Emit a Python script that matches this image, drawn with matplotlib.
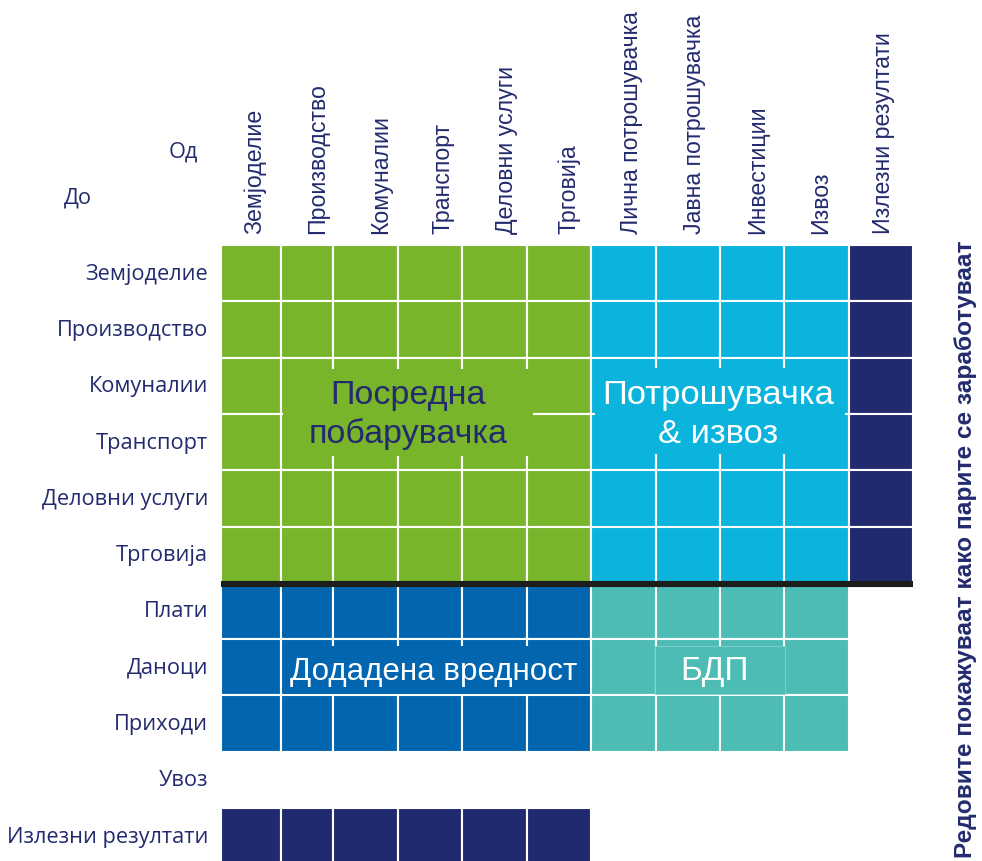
import numpy as np
import matplotlib.pyplot as plt
from matplotlib.patches import Rectangle

# --- data ---
row_labels = ['Земјоделие', 'Производство', 'Комуналии', 'Транспорт',
              'Деловни услуги', 'Трговија', 'Плати', 'Даноци', 'Приходи',
              'Увоз', 'Излезни резултати']
col_labels = ['Земјоделие', 'Производство', 'Комуналии', 'Транспорт',
              'Деловни услуги', 'Трговија', 'Лична потрошувачка',
              'Јавна потрошувачка', 'Инвестиции', 'Извоз', 'Излезни резултати']

# block code of every cell, one string per row ('.' = empty)
cell_blocks = [
    'GGGGGGCCCCN',
    'GGGGGGCCCCN',
    'GGGGGGCCCCN',
    'GGGGGGCCCCN',
    'GGGGGGCCCCN',
    'GGGGGGCCCCN',
    'BBBBBBTTTT.',
    'BBBBBBTTTT.',
    'BBBBBBTTTT.',
    '...........',
    'NNNNNN.....',
]
block_texts = {'G': 'Посредна\nпобарувачка', 'C': 'Потрошувачка\n& извоз',
               'B': 'Додадена вредност', 'T': 'БДП'}
corner_from = 'Од'
corner_to = 'До'
side_note = 'Редовите покажуваат како парите се заработуваат'

# --- style / layout ---
block_colors = {'G': '#79b52b', 'C': '#0bb4dd', 'N': '#212a6e',
                'B': '#0265af', 'T': '#4dbcb5'}
text_colors = {'G': '#232a6e', 'C': 'white', 'B': 'white', 'T': 'white'}
text_sizes = {'G': 24.5, 'C': 24.8, 'B': 22.6, 'T': 24}
navy = '#232b6e'
col_widths = [60, 52, 65, 64, 65, 64, 65, 64, 64, 65, 64]
row_h = 56.3
left, top = 221, 246
# label boxes: (x0, y0, x1, y1, text x, text y) in pixels
label_boxes = {
    'G': (283, 370, 533, 457, 408, 415),
    'C': (595, 369, 845, 455, 718, 415),
    'B': (283, 647, 590, 695, 434, 672),
    'T': (655, 647, 785, 695, 714, 672),
}

W, H = 982, 862
fig = plt.figure(figsize=(W / 100, H / 100), dpi=100)
ax = fig.add_axes([0, 0, 1, 1])
ax.set_xlim(0, W)
ax.set_ylim(H, 0)
ax.axis('off')

col_edges = left + np.concatenate([[0], np.cumsum(col_widths)])
grid_w = col_edges[-1] - left

# cells
for r, row in enumerate(cell_blocks):
    for c, code in enumerate(row):
        if code == '.':
            continue
        ax.add_patch(Rectangle((col_edges[c], top + r * row_h), col_widths[c], row_h,
                               facecolor=block_colors[code], edgecolor='white', lw=1.5))

# thick line between industries and value added
line_y = top + 6 * row_h + 1.2
ax.plot([left, col_edges[-1]], [line_y, line_y],
        color='#1d1d1b', lw=4.4, solid_capstyle='butt')

# block captions
for code, text in block_texts.items():
    x0, y0, x1, y1, tx, ty = label_boxes[code]
    ec = '#86d2cd' if code == 'T' else 'none'
    ax.add_patch(Rectangle((x0, y0), x1 - x0, y1 - y0, facecolor=block_colors[code],
                           edgecolor=ec, lw=0.6))
    ax.text(tx, ty, text, ha='center', va='center', fontsize=text_sizes[code],
            family='Liberation Sans', color=text_colors[code], linespacing=1.3)

# row labels
for r, lab in enumerate(row_labels):
    ax.text(208, top + (r + 0.5) * row_h, lab, ha='right', va='center',
            fontsize=15.7, family='Open Sans', color=navy)

# column labels (evenly spaced)
step = grid_w / len(col_labels)
for c, lab in enumerate(col_labels):
    ax.text(left + (c + 0.5) * step + 2, 234, lab, rotation=90, ha='center',
            va='bottom', fontsize=16.7, family='Liberation Sans', color=navy)

ax.text(183, 152, corner_from, ha='center', va='center', fontsize=15.7,
        family='Open Sans', color=navy)
ax.text(78, 198, corner_to, ha='center', va='center', fontsize=15.7,
        family='Open Sans', color=navy)

ax.text(966, 549, side_note, rotation=90, ha='center', va='center',
        fontsize=17.6, family='Liberation Sans', fontweight='bold', color=navy)

fig.savefig('out.png', dpi=100)
